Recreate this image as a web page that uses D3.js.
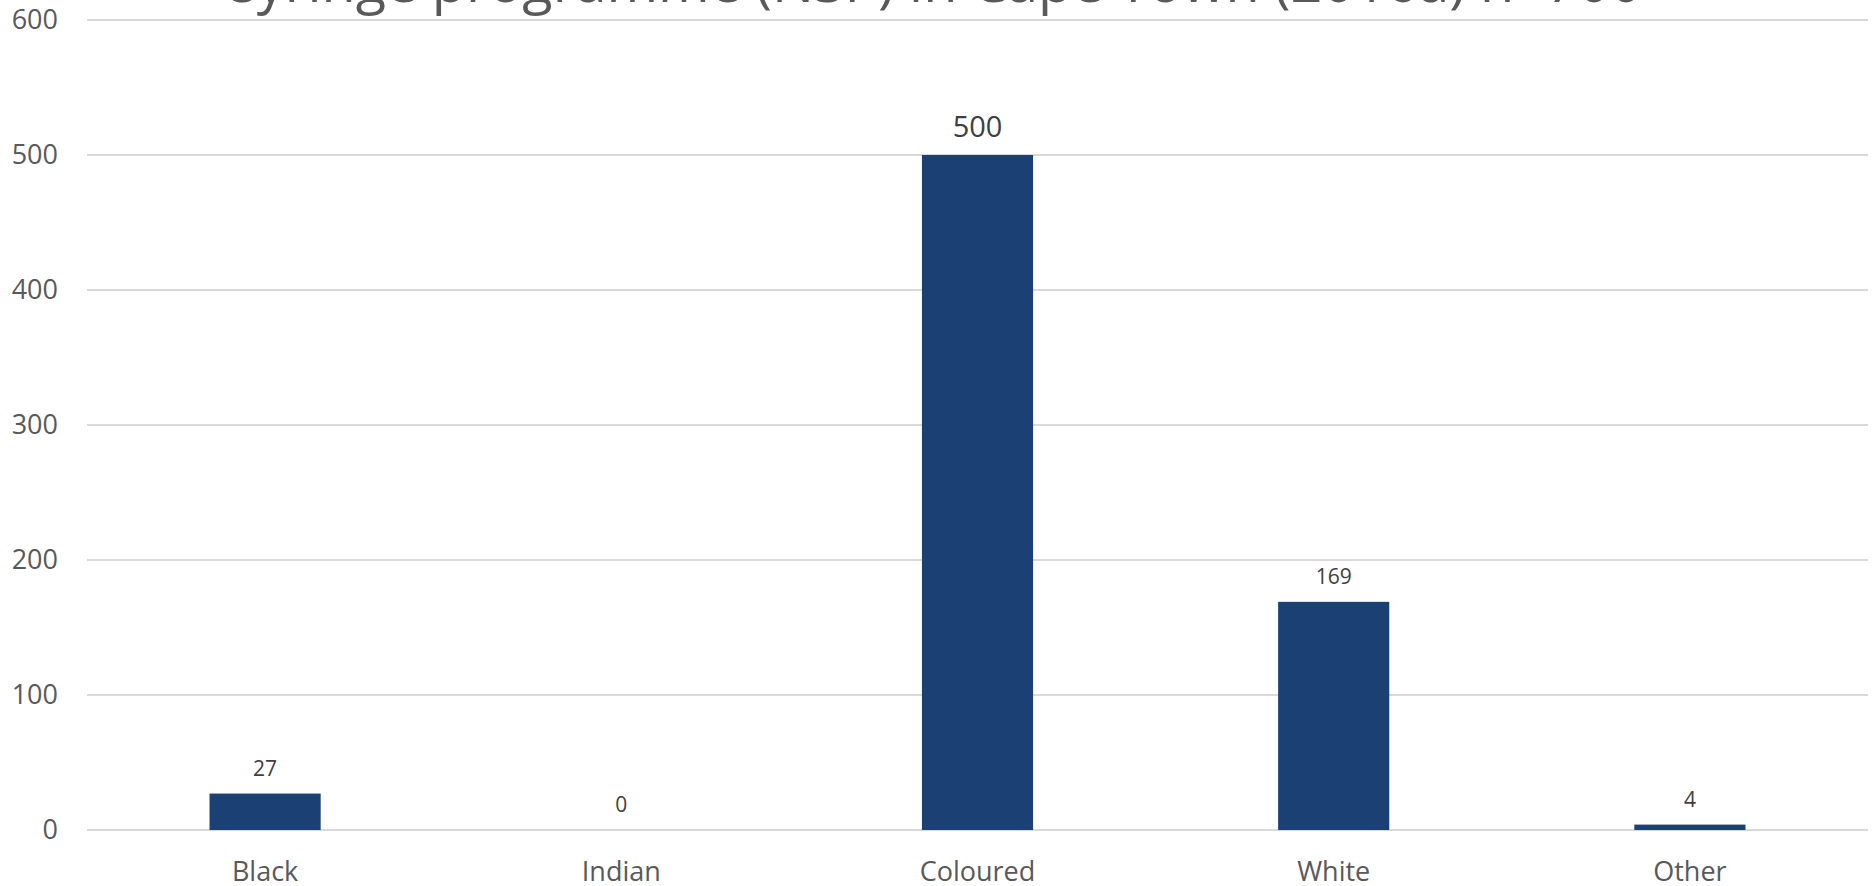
<!DOCTYPE html>
<html>
<head>
<meta charset="utf-8">
<script src="https://cdn.jsdelivr.net/npm/d3@7"></script>
<style>
  html, body { margin: 0; padding: 0; background: #ffffff; }
  svg { display: block; font-family: "Open Sans", "Noto Sans", sans-serif; }
</style>
</head>
<body>
<svg id="chart" width="1872" height="886"></svg>
<script>
// Chart data
const categories = ["Black", "Indian", "Coloured", "White", "Other"];
const values = [27, 0, 500, 169, 4];
const yTicks = [0, 100, 200, 300, 400, 500, 600];
const titleText = "syringe programme (NSP) in Cape Town (2016a) n=700";

const W = 1872, H = 886;
const margin = { left: 87, right: 4, top: 20, bottom: 56 };

const svg = d3.select("#chart");

const x = d3.scaleBand()
  .domain(categories)
  .range([margin.left, W - margin.right])
  .paddingInner(0.688)
  .paddingOuter(0.344);

const y = d3.scaleLinear()
  .domain([0, 600])
  .range([H - margin.bottom, margin.top]);

// Horizontal gridlines
svg.append("g")
  .selectAll("line")
  .data(yTicks)
  .join("line")
  .attr("x1", margin.left)
  .attr("x2", W - margin.right)
  .attr("y1", d => y(d))
  .attr("y2", d => y(d))
  .attr("stroke", "#d9d9d9")
  .attr("stroke-width", 2);

// Y axis labels
const yAxis = d3.axisLeft(y).tickValues(yTicks).tickSize(0).tickPadding(0);
const gy = svg.append("g")
  .attr("transform", `translate(${58},0)`)
  .call(yAxis);
gy.select(".domain").remove();
gy.selectAll("text")
  .attr("fill", "#595959")
  .style("font-size", "27px")
  .style("font-family", "'Open Sans', 'Noto Sans', sans-serif");

// X axis labels
const xAxis = d3.axisBottom(x).tickSize(0).tickPadding(0);
const gx = svg.append("g")
  .attr("transform", `translate(0,${y(0)})`)
  .call(xAxis);
gx.select(".domain").remove();
gx.selectAll("text")
  .attr("fill", "#595959")
  .attr("dy", null)
  .attr("y", 51)
  .style("font-size", "27px")
  .style("font-family", "'Open Sans', 'Noto Sans', sans-serif");

// Bars
svg.append("g")
  .selectAll("rect")
  .data(values)
  .join("rect")
  .attr("x", (d, i) => x(categories[i]))
  .attr("width", x.bandwidth())
  .attr("y", d => y(d))
  .attr("height", d => y(0) - y(d))
  .attr("fill", "#1b4074");

// Value labels
svg.append("g")
  .selectAll("text")
  .data(values)
  .join("text")
  .attr("x", (d, i) => x(categories[i]) + x.bandwidth() / 2)
  .attr("y", d => y(d) - 18)
  .attr("text-anchor", "middle")
  .attr("fill", "#404040")
  .style("font-size", d => d === 500 ? "29px" : "21px")
  .text(d => d);

// Title (second line of a wrapped title, partly above the top edge)
const title = svg.append("text")
  .attr("x", 936)
  .attr("y", 2)
  .attr("text-anchor", "middle")
  .attr("fill", "#595959")
  .style("font-size", "52px")
  .text(titleText);
const target = 1412;
const len = title.node().getComputedTextLength();
title.style("font-size", (52 * target / len).toFixed(2) + "px");
</script>
</body>
</html>
